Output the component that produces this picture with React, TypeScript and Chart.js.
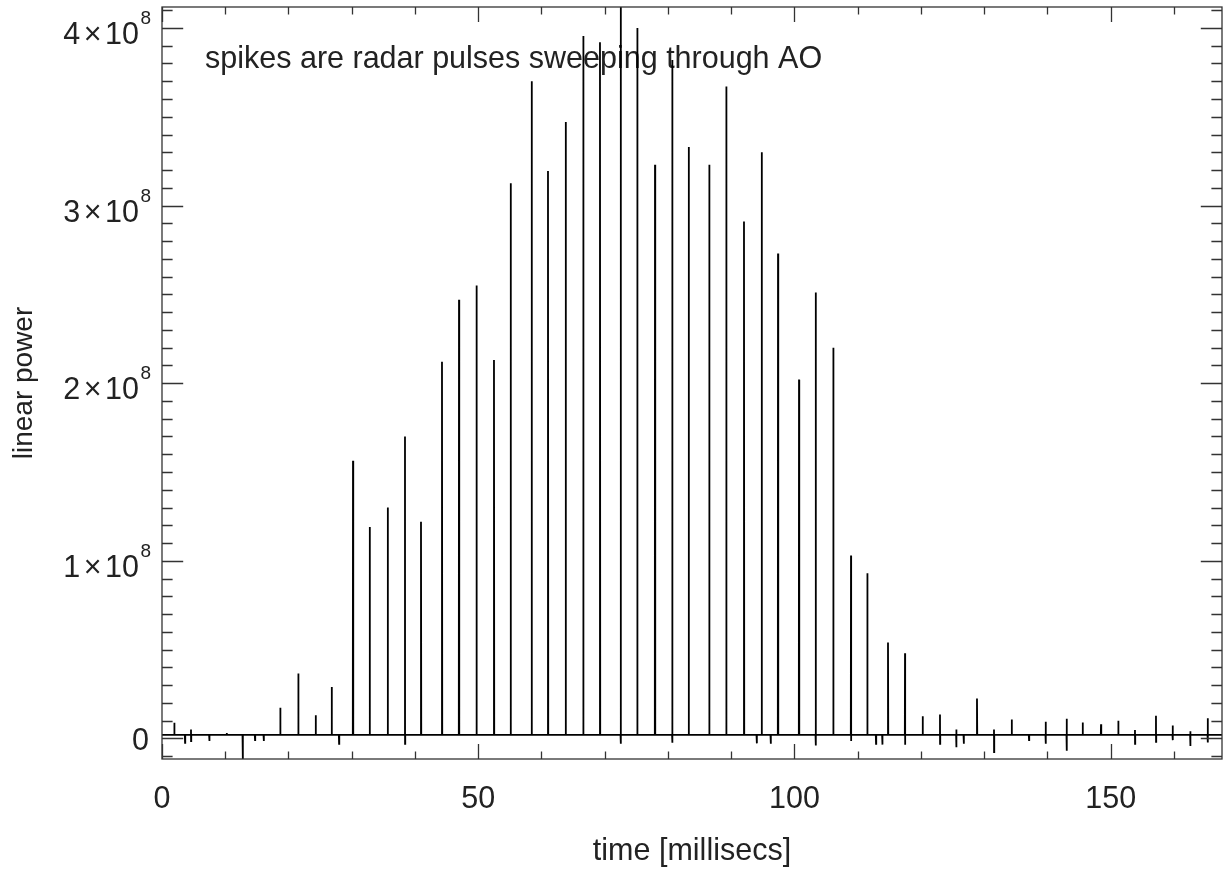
import { useEffect, useRef } from "react";
import { Chart, registerables } from "chart.js";

Chart.register(...registerables);

// ---- data (time in ms, power in units of 1e8) ----
const spikeTimes = [
  1.945, 3.637, 4.585, 7.479, 10.23, 12.76, 14.7, 16.08, 18.7, 21.55, 24.3, 26.83, 27.99,
  30.2, 32.84, 35.69, 38.42, 40.95, 44.27, 46.96, 49.73, 52.49, 55.13, 58.45, 61.03, 63.83,
  66.61, 69.25, 72.53, 75.15, 77.95, 80.68, 83.28, 86.53, 89.22, 92.02, 94.03, 94.82, 96.24,
  97.4, 100.72, 103.36, 106.14, 108.94, 111.52, 112.89, 113.89, 114.79, 117.48, 120.27,
  123.01, 125.59, 126.76, 128.86, 131.55, 134.35, 137.08, 139.72, 143.04, 145.57, 148.47,
  151.2, 153.84, 157.16, 159.8, 162.59, 165.34,
];
const spikePeaks = [
  0.088, 0, 0.05, 0, 0.03, 0, 0, 0, 0.173, 0.366, 0.13, 0.29, 0,
  1.563, 1.19, 1.3, 1.7, 1.22, 2.12, 2.47, 2.55, 2.13, 3.125, 3.7, 3.195, 3.47,
  3.955, 3.92, 4.3, 4.0, 3.23, 3.82, 3.33, 3.23, 3.67, 2.91, 0, 3.3, 0,
  2.73, 2.02, 2.51, 2.2, 1.03, 0.93, 0, 0, 0.54, 0.48, 0.124,
  0.135, 0.05, 0, 0.225, 0.05, 0.107, 0.02, 0.094, 0.11, 0.09, 0.08,
  0.1, 0.047, 0.128, 0.073, 0.04, 0.114,
];
const spikeDips = [
  0, -0.025, -0.015, -0.015, 0, -0.13, -0.01, -0.015, 0, 0, 0, 0, -0.03,
  0, 0, 0, -0.03, 0, 0, 0, 0, 0, 0, 0, 0, 0,
  0, 0, -0.03, 0, 0, -0.025, 0, 0, 0, 0, -0.028, 0, -0.03,
  0, 0, -0.04, 0, -0.015, 0, -0.03, -0.035, 0, -0.036, 0,
  -0.03, -0.05, -0.03, 0, -0.077, 0, -0.01, -0.03, -0.07, 0, 0,
  0, -0.03, -0.02, -0.01, -0.043, -0.023,
];
const baselineLevel = 0.02;
const powerUnit = 1e8;

const xRange = [0, 167.6];
const yRange = [-0.116, 4.118];
const xMajorTicks = [0, 50, 100, 150];
const xMinorTicks = [10, 20, 30, 40, 60, 70, 80, 90, 110, 120, 130, 140, 160];
const yMajorTicks = [0, 1, 2, 3, 4];
const yMinorStep = 0.1;

const annotationText = "spikes are radar pulses sweeping through AO";
const xTitle = "time [millisecs]";
const yTitle = "linear power";

// ---- styling ----
const FONT_FAMILY = '"Liberation Sans", Arial, Helvetica, sans-serif';
const FS = 30.5;
const YTITLE_FS = 28;
const SUP_FS = 19;
const TEXT_COLOR = "#222";
const AXIS_COLOR = "#333";

function buildPoints() {
  const pts: { x: number; y: number }[] = [];
  const base = baselineLevel * powerUnit;
  pts.push({ x: xRange[0], y: base });
  for (let i = 0; i < spikeTimes.length; i++) {
    const t = spikeTimes[i];
    pts.push({ x: t - 0.03, y: base });
    if (spikePeaks[i] > 0) pts.push({ x: t, y: spikePeaks[i] * powerUnit });
    if (spikeDips[i] < 0) pts.push({ x: t + 0.01, y: spikeDips[i] * powerUnit });
    pts.push({ x: t + 0.04, y: base });
  }
  pts.push({ x: xRange[1], y: base });
  return pts;
}

const idlFrame = {
  id: "idlFrame",
  beforeDatasetsDraw(chart: any) {
    const { ctx, chartArea: a } = chart;
    ctx.save();
    ctx.fillStyle = TEXT_COLOR;
    ctx.font = `${FS}px ${FONT_FAMILY}`;
    ctx.textAlign = "left";
    ctx.textBaseline = "alphabetic";
    ctx.fillText(annotationText, a.left + 43, a.top + 61);
    ctx.restore();
  },
  afterDatasetsDraw(chart: any) {
    const { ctx, chartArea: a, scales } = chart;
    const xs = scales.x;
    const ys = scales.y;
    const w = a.right - a.left;
    const h = a.bottom - a.top;
    const yMajLen = 0.02 * w;
    const xMajLen = 0.02 * h;
    ctx.save();
    ctx.strokeStyle = AXIS_COLOR;
    ctx.lineWidth = 1.3;
    ctx.strokeRect(a.left, a.top, w, h);
    ctx.beginPath();
    // y ticks (left + right, inward)
    const kMin = Math.ceil(yRange[0] / yMinorStep - 1e-6);
    const kMax = Math.floor(yRange[1] / yMinorStep + 1e-6);
    for (let k = kMin; k <= kMax; k++) {
      const v = k * yMinorStep;
      const isMaj = yMajorTicks.some((m) => Math.abs(m - v) < 1e-6);
      const py = Math.round(ys.getPixelForValue(v * powerUnit)) + 0.5;
      const L = isMaj ? yMajLen : yMajLen / 2;
      ctx.moveTo(a.left, py);
      ctx.lineTo(a.left + L, py);
      ctx.moveTo(a.right, py);
      ctx.lineTo(a.right - L, py);
    }
    // x ticks (bottom + top, inward)
    const allX = [...xMajorTicks.map((v) => [v, 1]), ...xMinorTicks.map((v) => [v, 0])];
    for (const [v, maj] of allX) {
      const px = Math.round(xs.getPixelForValue(v)) + 0.5;
      const L = maj ? xMajLen : xMajLen / 2;
      ctx.moveTo(px, a.bottom);
      ctx.lineTo(px, a.bottom - L);
      ctx.moveTo(px, a.top);
      ctx.lineTo(px, a.top + L);
    }
    ctx.stroke();

    // y tick labels: "n×10" with superscript 8
    ctx.fillStyle = TEXT_COLOR;
    const mainFont = `${FS}px ${FONT_FAMILY}`;
    const supFont = `${SUP_FS}px ${FONT_FAMILY}`;
    ctx.textBaseline = "alphabetic";
    ctx.textAlign = "right";
    const rightEdge = a.left - 11;
    for (const v of yMajorTicks) {
      const py = ys.getPixelForValue(v * powerUnit);
      if (v === 0) {
        ctx.font = mainFont;
        ctx.fillText("0", rightEdge - 2, py + 12);
        continue;
      }
      ctx.font = supFont;
      let xr = rightEdge;
      ctx.fillText("8", xr, py - 4);
      xr -= ctx.measureText("8").width + 1.5;
      ctx.font = mainFont;
      const by = py + 16;
      ctx.fillText("10", xr, by);
      xr -= ctx.measureText("10").width + 3.5;
      ctx.fillText("\u00d7", xr, by);
      xr -= ctx.measureText("\u00d7").width + 3.5;
      ctx.fillText(String(v), xr, by);
    }
    ctx.font = mainFont;
    ctx.textAlign = "center";
    for (const v of xMajorTicks) {
      const px = xs.getPixelForValue(v);
      ctx.fillText(String(v), px, a.bottom + 49);
    }
    ctx.fillText(xTitle, (a.left + a.right) / 2, a.bottom + 101);
    ctx.save();
    ctx.font = `${YTITLE_FS}px ${FONT_FAMILY}`;
    ctx.translate(32, (a.top + a.bottom) / 2);
    ctx.rotate(-Math.PI / 2);
    ctx.textAlign = "center";
    ctx.fillText(yTitle, 0, 0);
    ctx.restore();
    ctx.restore();
  },
};

export default function App() {
  const canvasRef = useRef<HTMLCanvasElement>(null);
  useEffect(() => {
    if (!canvasRef.current) return;
    const chart = new Chart(canvasRef.current, {
      type: "line",
      data: {
        datasets: [
          {
            data: buildPoints(),
            borderColor: "#000",
            borderWidth: 1.8,
            pointRadius: 0,
            fill: false,
            tension: 0,
          },
        ],
      },
      options: {
        animation: false,
        responsive: true,
        maintainAspectRatio: false,
        events: [],
        layout: { padding: { left: 162, right: 6, top: 7, bottom: 110 } },
        scales: {
          x: { type: "linear", min: xRange[0], max: xRange[1], display: false },
          y: { type: "linear", min: yRange[0] * powerUnit, max: yRange[1] * powerUnit, display: false },
        },
        plugins: { legend: { display: false }, tooltip: { enabled: false }, title: { display: false } },
      },
      plugins: [idlFrame],
    });
    return () => chart.destroy();
  }, []);
  return (
    <div style={{ position: "absolute", left: 0, top: 0, width: 1228, height: 869, background: "#fff" }}>
      <canvas ref={canvasRef} />
    </div>
  );
}
